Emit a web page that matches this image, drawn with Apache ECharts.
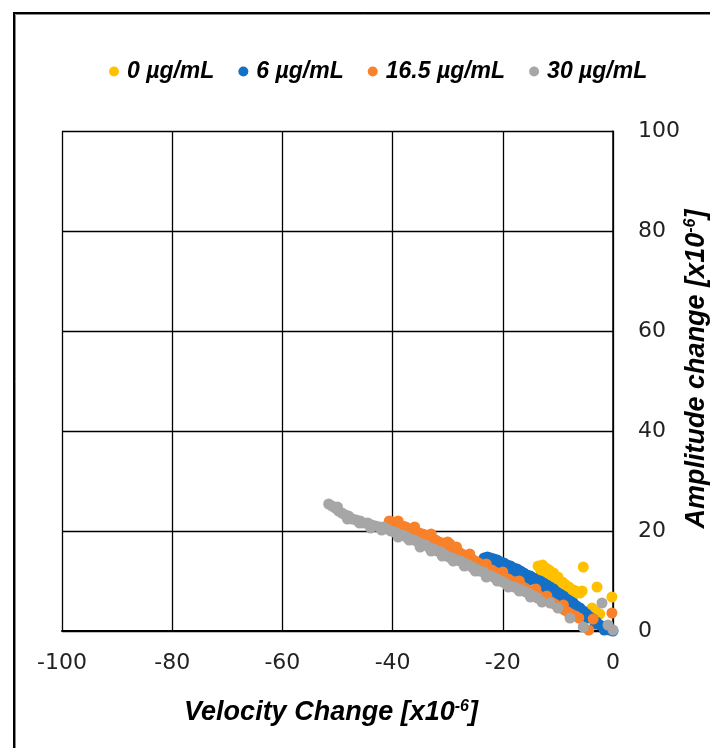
<!DOCTYPE html>
<html>
<head>
<meta charset="utf-8">
<script src="https://cdn.jsdelivr.net/npm/echarts@6/dist/echarts.min.js"></script>
<style>
  html, body { margin: 0; padding: 0; background: #fff; }
  #chart { width: 710px; height: 748px; }
</style>
</head>
<body>
<div id="chart"></div>
<script>
// Series names (concentrations)
const seriesNames = ['0 µg/mL', '6 µg/mL', '16.5 µg/mL', '30 µg/mL'];
const seriesColors = ['#FFC000', '#1470C6', '#F8812A', '#A6A6A6'];

// Axis ticks
const xTicks = { min: -100, max: 0, interval: 20 };
const yTicks = { min: 0, max: 100, interval: 20 };

// Axis titles
const xTitle = '{t|Velocity Change [x10}{s|-6}{t|]}';
const yTitle = '{t|Amplitude change [x10}{s|-6}{t|]}';

// [velocity change, amplitude change] pairs, both in x10^-6
const data0 = [
  [-13.6, 13.0], [-13.2, 12.4], [-12.8, 13.2], [-12.6, 12.0], [-12.2, 12.6],
  [-11.8, 11.6], [-11.6, 12.2], [-11.2, 11.2], [-10.8, 11.6], [-10.4, 10.6],
  [-10.0, 10.8], [-9.6, 10.0], [-9.2, 9.8], [-8.8, 9.4], [-8.4, 9.0],
  [-8.0, 8.8], [-7.6, 8.4], [-7.2, 8.2], [-6.8, 8.0], [-6.4, 7.8],
  [-6.0, 7.6], [-5.6, 8.0], [-5.4, 12.8], [-2.9, 8.8], [-0.2, 6.8],
  [-3.8, 4.6], [-3.2, 4.0], [-2.4, 3.4],
  [-13.0, 11.6], [-12.0, 11.0], [-11.0, 10.4], [-10.0, 9.6], [-9.0, 8.8],
  [-8.0, 8.0], [-7.0, 7.4]
];

const data6 = [
  [-23.4, 14.6], [-22.8, 14.8], [-22.2, 14.6], [-21.6, 14.4], [-21.0, 14.2],
  [-20.4, 13.8], [-19.8, 13.6], [-19.2, 13.2], [-18.6, 13.0], [-18.0, 12.6],
  [-17.4, 12.4], [-16.8, 12.0], [-16.2, 11.6], [-15.6, 11.2], [-15.0, 11.0],
  [-14.4, 10.6], [-13.8, 10.2], [-13.2, 10.0], [-12.6, 9.6], [-12.0, 9.2],
  [-11.4, 8.8], [-10.8, 8.4], [-10.2, 7.8], [-9.6, 7.4], [-9.0, 7.0],
  [-8.4, 6.4], [-7.8, 6.0], [-7.2, 5.6], [-6.6, 5.0], [-6.0, 4.6],
  [-5.4, 4.0], [-4.8, 3.4], [-4.2, 2.8], [-3.6, 2.4], [-3.0, 1.8],
  [-2.4, 1.2], [-1.8, 0.8], [-1.2, 0.6], [-0.6, 0.2], [0.0, 0.0],
  [-22.6, 13.8], [-21.2, 13.4], [-19.6, 12.6], [-18.2, 11.8], [-16.6, 11.0],
  [-15.2, 10.2], [-13.6, 9.2], [-12.2, 8.4], [-10.6, 7.4], [-9.2, 6.4],
  [-7.6, 5.2], [-6.2, 4.0], [-4.6, 2.6], [-3.2, 1.4], [-1.6, 0.2]
];

const data16 = [
  [-40.6, 22.0], [-40.0, 21.8], [-39.4, 21.6], [-38.8, 21.2], [-38.2, 21.0],
  [-37.6, 20.8], [-37.0, 20.4], [-36.4, 20.2], [-35.8, 20.0], [-35.2, 19.6],
  [-34.6, 19.4], [-34.0, 19.2], [-33.4, 18.8], [-32.8, 18.4], [-32.2, 18.2],
  [-31.6, 17.8], [-31.0, 17.6], [-30.4, 17.2], [-29.8, 16.8], [-29.2, 16.6],
  [-28.6, 16.2], [-28.0, 15.8], [-27.4, 15.4], [-26.8, 15.0], [-26.2, 14.8],
  [-25.6, 14.4], [-25.0, 14.0], [-24.4, 13.6], [-23.8, 13.2], [-23.2, 12.8],
  [-22.6, 12.4], [-22.0, 12.2], [-21.4, 11.8], [-20.8, 11.4], [-20.2, 11.0],
  [-19.6, 10.6], [-19.0, 10.4], [-18.4, 10.0], [-17.8, 9.6], [-17.2, 9.4],
  [-16.6, 9.0], [-16.0, 8.6], [-15.4, 8.2], [-14.8, 7.8], [-14.2, 7.6],
  [-13.6, 7.2], [-13.0, 6.8], [-12.4, 6.4], [-11.8, 6.0], [-11.2, 5.8],
  [-10.6, 5.4], [-10.0, 5.0], [-9.4, 4.6], [-8.8, 4.2], [-8.2, 3.8],
  [-7.6, 3.4], [-6.8, 3.0], [-6.2, 2.6], [-3.6, 2.4], [-4.4, 0.2], [-0.2, 3.6],
  [-38.0, 20.4], [-35.0, 19.0], [-32.0, 17.4], [-29.6, 17.4], [-27.0, 14.6],
  [-24.0, 12.8], [-21.0, 11.0], [-18.0, 9.2], [-15.0, 7.4],
  [-39.0, 22.0], [-36.0, 20.8], [-33.0, 19.4], [-30.0, 17.8], [-28.4, 16.8],
  [-26.0, 15.4], [-23.0, 13.4], [-20.0, 11.8], [-17.0, 10.0], [-14.0, 8.4],
  [-12.0, 7.0], [-9.0, 5.2]
];

const data30 = [
  [-51.6, 25.4], [-51.0, 25.0], [-50.4, 24.6], [-49.8, 24.0], [-49.2, 23.6],
  [-48.6, 23.2], [-48.0, 23.0], [-47.3, 22.4], [-46.6, 22.2], [-45.9, 22.0],
  [-45.2, 21.6], [-44.5, 21.6], [-43.8, 21.2], [-43.1, 21.0], [-42.4, 20.8],
  [-41.7, 20.8], [-41.0, 20.4], [-40.3, 20.0], [-39.6, 19.8], [-38.9, 19.4],
  [-38.2, 19.2], [-37.5, 18.8], [-36.8, 18.4], [-36.1, 18.2], [-35.4, 17.8],
  [-34.7, 17.4], [-34.0, 17.2], [-33.3, 16.6], [-32.6, 16.4], [-31.9, 16.0],
  [-31.2, 15.8], [-30.5, 15.2], [-29.8, 14.8], [-29.1, 14.6], [-28.4, 14.2],
  [-27.7, 14.0], [-27.0, 13.6], [-26.3, 13.2], [-25.6, 12.8], [-24.9, 12.4],
  [-24.2, 12.0], [-23.5, 11.8], [-22.8, 11.2], [-22.1, 11.0], [-21.4, 10.6],
  [-20.7, 10.2], [-20.0, 9.8], [-19.3, 9.4], [-18.6, 9.0], [-17.9, 8.8],
  [-17.2, 8.4], [-16.5, 8.2], [-15.8, 7.8], [-15.1, 7.4], [-14.4, 7.0],
  [-13.7, 6.6], [-12.9, 5.8], [-11.4, 5.6], [-10.0, 4.6], [-7.8, 2.6],
  [-5.4, 0.8], [-2.0, 5.6], [-0.9, 1.2], [0.0, 0.2],
  [-50.0, 24.8], [-46.0, 21.6], [-42.0, 20.2], [-37.0, 18.2], [-33.0, 16.0],
  [-29.0, 14.0], [-25.0, 12.0], [-21.0, 10.0], [-17.0, 8.0],
  [-48.2, 22.4], [-44.0, 20.6], [-39.0, 18.8], [-35.0, 16.8], [-31.0, 15.0],
  [-27.0, 13.0], [-23.0, 10.8], [-19.0, 8.8], [-15.0, 6.8]
];

const seriesData = [data0, data6, data16, data30];

const tickFont = { fontFamily: 'DejaVu Sans', fontSize: 22, color: '#222' };
const titleFont = { fontFamily: 'Liberation Sans', fontWeight: 'bold', fontStyle: 'italic', fontSize: 27, color: '#000' };
const titleRich = {
  t: titleFont,
  s: Object.assign({}, titleFont, { fontSize: 16, padding: [0, 0, 13, 0] })
};

const chart = echarts.init(document.getElementById('chart'), null, { renderer: 'canvas' });

chart.setOption({
  backgroundColor: '#fff',
  animation: false,
  graphic: [
    // frame around the figure
    { type: 'rect', silent: true, shape: { x: 14, y: 13, width: 720, height: 760 },
      style: { fill: 'none', stroke: '#000', lineWidth: 2 } },
    { type: 'rect', silent: true, shape: { x: 15.5, y: 14.5, width: 720, height: 760 },
      style: { fill: 'none', stroke: '#888', lineWidth: 1 } },
    // axis titles
    { type: 'text', silent: true, x: 331, y: 713,
      style: { text: xTitle, rich: titleRich, align: 'center', verticalAlign: 'middle' } },
    { type: 'text', silent: true, x: 697, y: 369, rotation: Math.PI / 2,
      style: { text: yTitle, rich: titleRich, align: 'center', verticalAlign: 'middle' } }
  ],
  legend: {
    top: 55,
    left: 104,
    icon: 'circle',
    itemWidth: 10,
    itemHeight: 10,
    itemGap: 24,
    textStyle: Object.assign({}, titleFont, { fontSize: 23, padding: [0, 0, 0, 3] }),
    data: seriesNames
  },
  grid: { left: 62, right: 97, top: 131, bottom: 117, containLabel: false, outerBoundsMode: 'none' },
  xAxis: {
    type: 'value',
    min: xTicks.min, max: xTicks.max, interval: xTicks.interval,
    axisLine: { show: true, onZero: false, lineStyle: { color: '#000', width: 2 } },
    axisTick: { show: false },
    axisLabel: Object.assign({ margin: 21 }, tickFont),
    splitLine: { show: true, lineStyle: { color: '#000', width: 1.3 } }
  },
  yAxis: {
    type: 'value',
    position: 'right',
    min: yTicks.min, max: yTicks.max, interval: yTicks.interval,
    axisLine: { show: true, onZero: false, lineStyle: { color: '#000', width: 1.5 } },
    axisTick: { show: false },
    axisLabel: Object.assign({ margin: 25 }, tickFont),
    splitLine: { show: true, lineStyle: { color: '#000', width: 1.3 } }
  },
  series: seriesNames.map((name, i) => ({
    name: name,
    type: 'scatter',
    symbol: 'circle',
    symbolSize: 11,
    itemStyle: { color: seriesColors[i], opacity: 1 },
    data: seriesData[i],
    z: 2 + i
  }))
});
</script>
</body>
</html>
